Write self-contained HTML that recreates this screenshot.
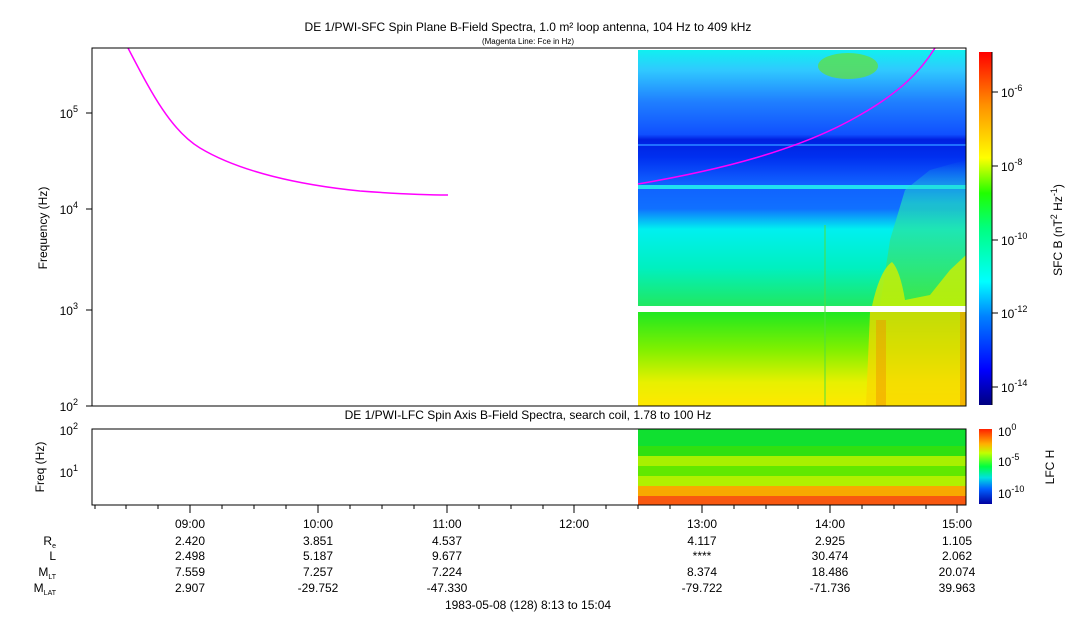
<!DOCTYPE html>
<html><head><style>
body{margin:0;background:#fff;}
svg{display:block;font-family:"Liberation Sans",sans-serif;}
</style></head><body>
<svg width="1083" height="620" viewBox="0 0 1083 620" xmlns="http://www.w3.org/2000/svg">
<defs>
<linearGradient id="up" x1="0" y1="0" x2="0" y2="1">
<stop offset="0" stop-color="#10f0f0"/>
<stop offset="0.08" stop-color="#30c8ff"/>
<stop offset="0.2" stop-color="#2080ff"/>
<stop offset="0.33" stop-color="#1050ff"/>
<stop offset="0.35" stop-color="#0020e0"/>
<stop offset="0.42" stop-color="#0030f0"/>
<stop offset="0.52" stop-color="#1060ff"/>
<stop offset="0.62" stop-color="#1070ff"/>
<stop offset="0.7" stop-color="#00f0f0"/>
<stop offset="0.85" stop-color="#00f0c0"/>
<stop offset="1" stop-color="#20e860"/>
</linearGradient>
<linearGradient id="lo" x1="0" y1="0" x2="0" y2="1">
<stop offset="0" stop-color="#20e820"/>
<stop offset="0.4" stop-color="#80f000"/>
<stop offset="0.75" stop-color="#e8f000"/>
<stop offset="1" stop-color="#ffe800"/>
</linearGradient>
<linearGradient id="side" x1="0" y1="0" x2="0" y2="1">
<stop offset="0" stop-color="#20e0e0" stop-opacity="0"/>
<stop offset="0.3" stop-color="#20e0c0" stop-opacity="0.7"/>
<stop offset="1" stop-color="#40e840" stop-opacity="0.9"/>
</linearGradient>
<linearGradient id="cb" x1="0" y1="1" x2="0" y2="0">
<stop offset="0" stop-color="#000080"/>
<stop offset="0.1" stop-color="#0000ff"/>
<stop offset="0.25" stop-color="#0080ff"/>
<stop offset="0.35" stop-color="#00ffff"/>
<stop offset="0.5" stop-color="#00ff80"/>
<stop offset="0.6" stop-color="#20ff00"/>
<stop offset="0.7" stop-color="#ffff00"/>
<stop offset="0.85" stop-color="#ff9000"/>
<stop offset="1" stop-color="#ff0000"/>
</linearGradient>
<linearGradient id="cb2" x1="0" y1="1" x2="0" y2="0">
<stop offset="0" stop-color="#0000a0"/>
<stop offset="0.2" stop-color="#0060ff"/>
<stop offset="0.35" stop-color="#00e0e0"/>
<stop offset="0.5" stop-color="#00ff40"/>
<stop offset="0.68" stop-color="#c0ff00"/>
<stop offset="0.8" stop-color="#ffb000"/>
<stop offset="1" stop-color="#ff2000"/>
</linearGradient>
</defs>
<text x="528" y="31" font-size="12" text-anchor="middle">DE 1/PWI-SFC  Spin Plane B-Field Spectra, 1.0 m² loop antenna, 104 Hz to 409 kHz</text>
<text x="528" y="44" font-size="8" text-anchor="middle">(Magenta Line: Fce in Hz)</text>
<rect x="638" y="50" width="328" height="256" fill="url(#up)"/>
<rect x="638" y="185" width="328" height="4" fill="#20e0f0"/>
<rect x="638" y="144" width="328" height="2" fill="#2070ff"/>
<rect x="638" y="312" width="328" height="94" fill="url(#lo)"/>
<ellipse cx="848" cy="66" rx="30" ry="13" fill="#60e040" opacity="0.75"/>
<path d="M880 306 L890 240 L905 190 L930 170 L966 160 L966 306Z" fill="url(#side)"/>
<path d="M872 306 Q880 270 892 262 Q900 270 905 300 L930 295 L950 270 L966 255 L966 306Z" fill="#d0f000" opacity="0.8"/>
<path d="M870 312 L966 312 L966 406 L866 406Z" fill="#f8d800" opacity="0.75"/>
<rect x="876" y="320" width="10" height="86" fill="#f09000" opacity="0.45"/>
<rect x="960" y="312" width="6" height="94" fill="#f09000" opacity="0.5"/>
<line x1="825" y1="225" x2="825" y2="406" stroke="#50e040" stroke-width="2" opacity="0.5"/>
<path d="M128 48 C150 90 170 130 200 148 C240 172 300 185 360 191 C400 194 430 195 448 195" fill="none" stroke="#ff00ff" stroke-width="1.5"/>
<path d="M638 184 C720 170 800 150 860 115 C900 92 920 72 935 48" fill="none" stroke="#ff00ff" stroke-width="1.5"/>
<rect x="92" y="48" width="874" height="358" fill="none" stroke="#000" stroke-width="1"/>
<g stroke="#000" stroke-width="1">
<line x1="86" y1="113" x2="92" y2="113"/><line x1="86" y1="209" x2="92" y2="209"/><line x1="86" y1="310" x2="92" y2="310"/><line x1="86" y1="406" x2="92" y2="406"/>
</g>
<g font-size="12" text-anchor="end">
<text x="78" y="118">10<tspan font-size="9" dy="-6">5</tspan></text>
<text x="78" y="214">10<tspan font-size="9" dy="-6">4</tspan></text>
<text x="78" y="315">10<tspan font-size="9" dy="-6">3</tspan></text>
<text x="78" y="411">10<tspan font-size="9" dy="-6">2</tspan></text>
</g>
<text transform="translate(47,228) rotate(-90)" font-size="12" text-anchor="middle">Frequency (Hz)</text>
<rect x="979" y="52" width="13" height="353" fill="url(#cb)"/>
<g stroke="#000"><line x1="992" y1="52" x2="992" y2="405"/>
<line x1="992" y1="92" x2="998" y2="92"/><line x1="992" y1="166" x2="998" y2="166"/><line x1="992" y1="240" x2="998" y2="240"/><line x1="992" y1="313" x2="998" y2="313"/><line x1="992" y1="387" x2="998" y2="387"/></g>
<g font-size="12">
<text x="1001" y="97">10<tspan font-size="9" dy="-6">-6</tspan></text>
<text x="1001" y="171">10<tspan font-size="9" dy="-6">-8</tspan></text>
<text x="1001" y="245">10<tspan font-size="9" dy="-6">-10</tspan></text>
<text x="1001" y="318">10<tspan font-size="9" dy="-6">-12</tspan></text>
<text x="1001" y="392">10<tspan font-size="9" dy="-6">-14</tspan></text>
</g>
<text transform="translate(1062,230) rotate(-90)" font-size="12" text-anchor="middle">SFC B (nT<tspan font-size="9" dy="-5">2</tspan><tspan dy="5"> Hz</tspan><tspan font-size="9" dy="-5">-1</tspan><tspan dy="5">)</tspan></text>
<text x="528" y="419" font-size="12" text-anchor="middle">DE 1/PWI-LFC  Spin Axis B-Field Spectra, search coil, 1.78 to 100 Hz</text>
<rect x="638" y="429" width="328" height="17" fill="#10e030"/>
<rect x="638" y="446" width="328" height="10" fill="#30e010"/>
<rect x="638" y="456" width="328" height="10" fill="#a8f000"/>
<rect x="638" y="466" width="328" height="10" fill="#60e800"/>
<rect x="638" y="476" width="328" height="10" fill="#b0f000"/>
<rect x="638" y="486" width="328" height="10" fill="#f8a800"/>
<rect x="638" y="496" width="328" height="9" fill="#f85810"/>
<rect x="92" y="429" width="874" height="76" fill="none" stroke="#000"/>
<g font-size="12" text-anchor="end">
<text x="78" y="435">10<tspan font-size="9" dy="-6">2</tspan></text>
<text x="78" y="477">10<tspan font-size="9" dy="-6">1</tspan></text>
</g>
<text transform="translate(44,467) rotate(-90)" font-size="12" text-anchor="middle">Freq (Hz)</text>
<rect x="979" y="429" width="13" height="75" fill="url(#cb2)"/>
<g font-size="12">
<text x="998" y="436">10<tspan font-size="9" dy="-6">0</tspan></text>
<text x="998" y="466">10<tspan font-size="9" dy="-6">-5</tspan></text>
<text x="998" y="498">10<tspan font-size="9" dy="-6">-10</tspan></text>
</g>
<text transform="translate(1054,467) rotate(-90)" font-size="12" text-anchor="middle">LFC H</text>
<g stroke="#000">
<line x1="190" y1="505" x2="190" y2="513"/><line x1="318" y1="505" x2="318" y2="513"/><line x1="447" y1="505" x2="447" y2="513"/><line x1="574" y1="505" x2="574" y2="513"/><line x1="702" y1="505" x2="702" y2="513"/><line x1="830" y1="505" x2="830" y2="513"/><line x1="957" y1="505" x2="957" y2="513"/>
<path d="M95 505v4M126 505v4M158 505v4M222 505v4M254 505v4M286 505v4M350 505v4M382 505v4M414 505v4M479 505v4M511 505v4M543 505v4M606 505v4M638 505v4M670 505v4M734 505v4M766 505v4M798 505v4M862 505v4M894 505v4M926 505v4"/>
</g>
<g font-size="12" text-anchor="middle">
<text x="190" y="528">09:00</text><text x="318" y="528">10:00</text><text x="447" y="528">11:00</text><text x="574" y="528">12:00</text><text x="702" y="528">13:00</text><text x="830" y="528">14:00</text><text x="957" y="528">15:00</text>
<text x="190" y="545">2.420</text><text x="318" y="545">3.851</text><text x="447" y="545">4.537</text><text x="702" y="545">4.117</text><text x="830" y="545">2.925</text><text x="957" y="545">1.105</text>
<text x="190" y="560">2.498</text><text x="318" y="560">5.187</text><text x="447" y="560">9.677</text><text x="702" y="560">****</text><text x="830" y="560">30.474</text><text x="957" y="560">2.062</text>
<text x="190" y="576">7.559</text><text x="318" y="576">7.257</text><text x="447" y="576">7.224</text><text x="702" y="576">8.374</text><text x="830" y="576">18.486</text><text x="957" y="576">20.074</text>
<text x="190" y="592">2.907</text><text x="318" y="592">-29.752</text><text x="447" y="592">-47.330</text><text x="702" y="592">-79.722</text><text x="830" y="592">-71.736</text><text x="957" y="592">39.963</text>
<text x="528" y="609">1983-05-08 (128) 8:13 to 15:04</text>
</g>
<g font-size="12" text-anchor="end">
<text x="56" y="545">R<tspan font-size="7" dy="3">e</tspan></text>
<text x="56" y="560">L</text>
<text x="56" y="576">M<tspan font-size="7" dy="3">LT</tspan></text>
<text x="56" y="592">M<tspan font-size="7" dy="3">LAT</tspan></text>
</g>
</svg>
</body></html>
